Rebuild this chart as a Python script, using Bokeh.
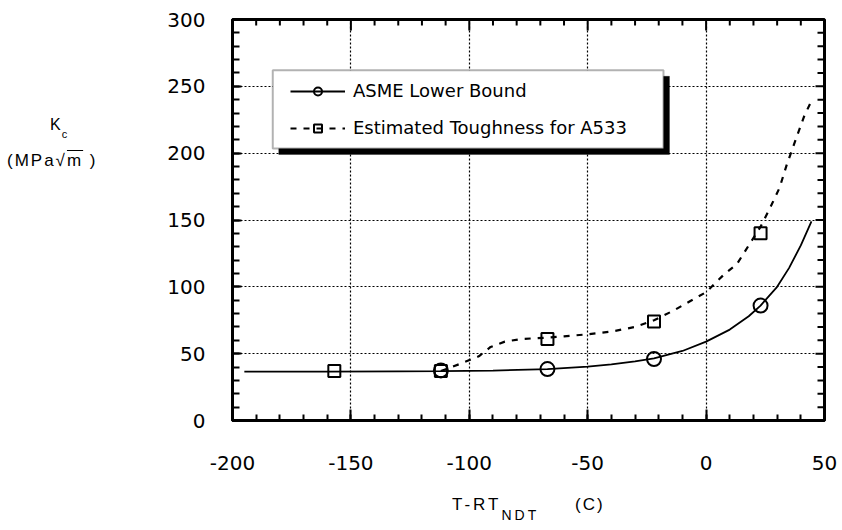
from bokeh.plotting import figure
from bokeh.models import (Range1d, LinearAxis, FixedTicker, Legend, LegendItem,
                          BoxAnnotation, Grid, Div)
from bokeh.layouts import row, column
from bokeh.embed import file_html
from bokeh.resources import INLINE

# ---- data ----
asme_x = [-195, -160, -130, -112, -90, -67, -50, -40, -30, -22, -10, 0, 10, 18, 23, 30, 35, 40, 44.5]
asme_y = [36.5, 36.5, 36.7, 36.9, 37.3, 38.5, 40.3, 42.0, 44.3, 46.5, 52, 59, 68, 78, 86, 100, 114, 131, 149]
asme_mx = [-112, -67, -22, 23]
asme_my = [37.5, 38.5, 46, 86]

est_x = [-112, -103, -96, -91, -85, -78, -67, -60, -50, -40, -30, -22, -14, -7, 0, 8, 13, 18, 23, 27, 31, 34, 38, 41.5, 45]
est_y = [37, 43, 48, 55, 59, 61, 62, 63, 64.5, 66.5, 70, 75, 82, 89, 96, 110, 117, 131, 145, 159, 174, 191, 211, 228, 241]
est_mx = [-157, -112, -67, -22, 23]
est_my = [37, 37, 61, 74, 140]

x_ticks = [-200, -150, -100, -50, 0, 50]
x_tick_labels = ["-200", "-150", "-100", "-50", "0", "50"]
y_ticks = [0, 50, 100, 150, 200, 250, 300]
y_tick_labels = ["0", "50", "100", "150", "200", "250", "300"]
series_names = ["ASME Lower Bound", "Estimated Toughness for A533"]

FONT = "DejaVu Sans"
XMIN, XMAX, YMIN, YMAX = -200, 50, 0, 300
FRAME_W, FRAME_H = 592, 401
PX_X = FRAME_W / (XMAX - XMIN)
PX_Y = FRAME_H / (YMAX - YMIN)

p = figure(width=722, height=485, output_backend="svg", toolbar_location=None,
           x_range=Range1d(XMIN, XMAX), y_range=Range1d(YMIN, YMAX),
           min_border_left=112, min_border_right=18, min_border_top=19, min_border_bottom=65,
           x_axis_type=None, y_axis_type=None, margin=0)
p.background_fill_color = "white"
p.border_fill_color = "white"
p.outline_line_color = "black"
p.outline_line_width = 3


def make_axis(axis, ticks, labels, standoff, major_in, minor_in):
    axis.ticker = FixedTicker(ticks=ticks,
                              minor_ticks=list(range(min(ticks), max(ticks) + 1, 10)))
    axis.major_label_overrides = {t: l for t, l in zip(ticks, labels)}
    axis.axis_line_color = "black"
    axis.axis_line_width = 3
    axis.major_tick_in = major_in
    axis.major_tick_out = 0
    axis.minor_tick_in = minor_in
    axis.minor_tick_out = 0
    axis.major_tick_line_width = 2
    axis.minor_tick_line_width = 2
    axis.major_tick_line_color = "black"
    axis.minor_tick_line_color = "black"
    axis.major_label_text_font = FONT
    axis.major_label_text_color = "black"
    axis.major_label_text_font_size = "20px"
    axis.major_label_standoff = standoff
    return axis


p.add_layout(make_axis(LinearAxis(), x_ticks, x_tick_labels, 35, 11, 6), "below")
p.add_layout(make_axis(LinearAxis(), y_ticks, y_tick_labels, 27, 9, 7), "left")

# mirrored inward ticks on the top and right edges
top_t = list(range(XMIN, XMAX + 1, 10))
top_len = [(11 if t in x_ticks else 6) / PX_Y for t in top_t]
p.segment(x0=top_t, x1=top_t, y0=[YMAX] * len(top_t), y1=[YMAX - l for l in top_len],
          line_color="black", line_width=2)
right_t = list(range(YMIN, YMAX + 1, 10))
right_len = [(9 if t in y_ticks else 7) / PX_X for t in right_t]
p.segment(x0=[XMAX] * len(right_t), x1=[XMAX - l for l in right_len], y0=right_t, y1=right_t,
          line_color="black", line_width=2)

gx = Grid(dimension=0, ticker=FixedTicker(ticks=x_ticks[1:-1]),
          grid_line_color="black", grid_line_dash="2 2", grid_line_width=1.2)
gy = Grid(dimension=1, ticker=FixedTicker(ticks=y_ticks[1:-1]),
          grid_line_color="black", grid_line_dash="2 2", grid_line_width=1.2)
p.add_layout(gx)
p.add_layout(gy)

# series
r1 = p.line(asme_x, asme_y, line_color="black", line_width=1.8)
r1m = p.scatter(asme_mx, asme_my, marker="circle", size=14, fill_color="white", fill_alpha=0,
                line_color="black", line_width=2)
r2 = p.line(est_x, est_y, line_color="black", line_width=2.2, line_dash="6 7")
r2m = p.scatter(est_mx, est_my, marker="square", size=12, fill_color="white", fill_alpha=0,
                line_color="black", line_width=2)

# legend box with drop shadow
sx = 6 / PX_X
sy = 6 / PX_Y
LB_L, LB_R, LB_T, LB_B = -183, -18, 262, 203.5
p.add_layout(BoxAnnotation(left=LB_L + sx, right=LB_R + sx, top=LB_T - sy, bottom=LB_B - sy,
                           fill_color="black", fill_alpha=1, line_color="black", line_width=1))
p.add_layout(BoxAnnotation(left=LB_L, right=LB_R, top=LB_T, bottom=LB_B,
                           fill_color="white", fill_alpha=1, line_color="black", line_width=2))

legend = Legend(items=[LegendItem(label=series_names[0], renderers=[r1, r1m]),
                       LegendItem(label=series_names[1], renderers=[r2, r2m])],
                location=(58, 282), padding=0, margin=0, spacing=16,
                glyph_width=55, glyph_height=20, label_height=20, label_standoff=8,
                border_line_alpha=0, background_fill_alpha=0,
                label_text_font=FONT, label_text_font_size="18px", label_text_color="black")
p.add_layout(legend, "center")

# axis titles as real HTML text
TFONT = "font-family:'Liberation Sans',Arial,sans-serif;color:black;"
ydiv = Div(width=120, height=485, margin=0, text=(
    f'<div style="position:relative;width:120px;height:485px;{TFONT}">'
    '<div style="position:absolute;left:50px;top:116px;font-size:16px;line-height:18px;">'
    'K<span style="font-size:11px;position:relative;top:8px;left:1px;">c</span></div>'
    '<div style="position:absolute;left:7px;top:150px;font-size:17px;line-height:22px;'
    'letter-spacing:2px;white-space:nowrap;">'
    '(MPa&#8730;<span style="text-decoration:overline;">m</span> )</div>'
    '</div>'))
xdiv = Div(width=842, height=45, margin=0, text=(
    f'<div style="position:relative;width:842px;height:45px;{TFONT}">'
    '<div style="position:absolute;left:452px;top:10px;font-size:17px;line-height:20px;'
    'letter-spacing:3px;white-space:nowrap;">T-RT'
    '<span style="font-size:14px;position:relative;top:10px;left:0px;">NDT</span></div>'
    '<div style="position:absolute;left:575px;top:10px;font-size:17px;line-height:20px;'
    'letter-spacing:2px;">(C)</div>'
    '</div>'))

layout = column(row(ydiv, p, spacing=0), xdiv, spacing=0)

open("out.html", "w").write(file_html(layout, INLINE))
